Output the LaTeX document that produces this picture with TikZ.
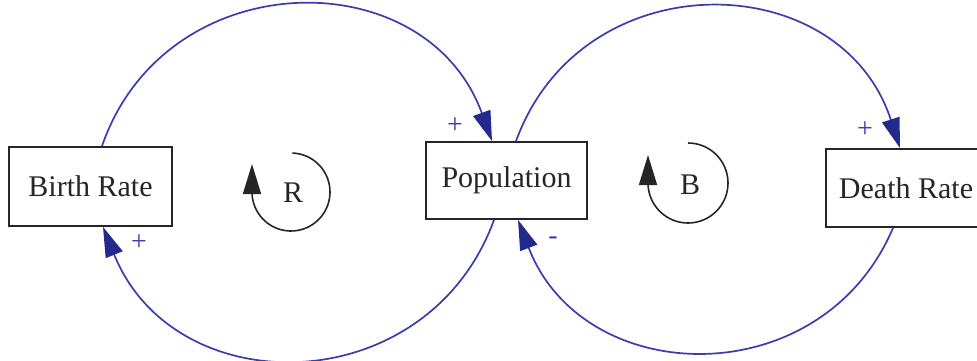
\documentclass[tikz,border=0pt]{standalone}
\usepackage{fontspec}
\setmainfont{Liberation Serif}
\usepackage{tikz}
\usetikzlibrary{arrows.meta,calc}
\definecolor{CLDBlue}  {HTML}{3A3DAE}
\definecolor{CLDBlueDk}{HTML}{232A8C}
\definecolor{CLDInk}   {HTML}{262626}

\begin{document}
\begin{tikzpicture}[x=0.5pt,y=0.5pt,
  var/.style={draw=CLDInk,line width=0.9pt,fill=white,inner sep=0pt,
              minimum width=80.5pt,minimum height=38.5pt,
              font=\fontsize{15}{18}\selectfont,text=CLDInk},
  sgn/.style={font=\fontsize{14}{16}\selectfont,text=CLDBlue,inner sep=0pt},
  lp/.style={font=\fontsize{15}{18}\selectfont,text=CLDInk,inner sep=0pt},
  link/.style={-{Triangle[length=15pt,width=9pt,color=CLDBlueDk]},
               line width=0.85pt,CLDBlue},
  turn/.style={-{Triangle[length=15pt,width=9pt]},line width=0.8pt,CLDInk}
]
  \clip (0,0) rectangle (977,360);

  % Variables
  \node[var,minimum width=81.5pt,minimum height=39.5pt] (br) at (90.5,173.5) {Birth Rate};
  \node[var] (pop) at (506.5,179.5) {Population};
  \node[var,minimum width=80pt,minimum height=39pt] (dr) at (906,172) {Death Rate};

  % Links
  \draw[link] ([xshift=5.75pt]br.north) to[out=71,in=110,looseness=1.27] ([xshift=-7.25pt]pop.north);
  \draw[link] ([xshift=-6.25pt]pop.south) to[out=-110,in=-68,looseness=1.26] ([xshift=6.25pt]br.south);
  \draw[link] ([xshift=4.75pt]pop.north) to[out=70,in=108,looseness=1.28] ([xshift=-3pt]dr.north);
  \draw[link] ([xshift=-6.5pt]dr.south) to[out=-113,in=-69,looseness=1.24] ([xshift=5.75pt]pop.south);

  % Polarities
  \node[sgn] (sgnA) at (455,234) {+};
  \node[sgn] (sgnB) at (139,117) {+};
  \node[sgn] (sgnC) at (865,230) {+};
  \node[sgn] (sgnD) at (553,119) {-};

  % Loops
  \node[lp] (loopR) at (293,167) {R};
  \draw[turn] (291,168) ++(88:39) arc[start angle=88,end angle=-180,radius=39] -- ++(0,28);
  \node[lp] (loopB) at (690,175) {B};
  \draw[turn] (688,177) ++(90:40) arc[start angle=90,end angle=-180,radius=40] -- ++(0,28);
\end{tikzpicture}
\end{document}
